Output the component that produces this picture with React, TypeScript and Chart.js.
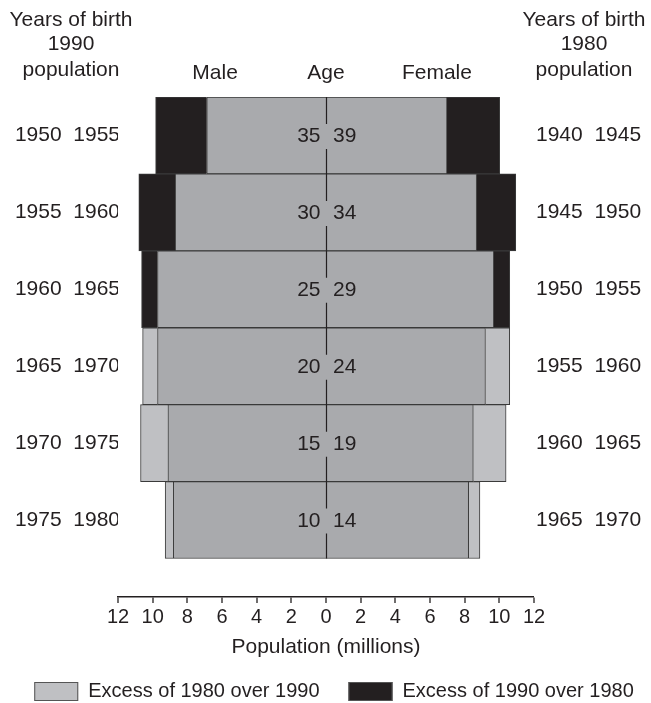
import React, { useEffect, useRef } from 'react';
import { Chart, registerables } from 'chart.js';

Chart.register(...registerables);

// ---- data ----
const ageFrom = [35, 30, 25, 20, 15, 10];
const ageTo = [39, 34, 29, 24, 19, 14];
const birthYears1990 = ['1950  1955', '1955  1960', '1960  1965', '1965  1970', '1970  1975', '1975  1980'];
const birthYears1980 = ['1940  1945', '1945  1950', '1950  1955', '1955  1960', '1960  1965', '1965  1970'];
const male1990 = [9.83, 10.8, 10.64, 9.72, 9.12, 8.81];
const male1980 = [6.88, 8.7, 9.72, 10.58, 10.7, 9.28];
const female1990 = [10.02, 10.95, 10.6, 9.2, 8.5, 8.23];
const female1980 = [6.98, 8.69, 9.68, 10.6, 10.39, 8.88];
const leftHeader = ['Years of birth', '1990', 'population'];
const rightHeader = ['Years of birth', '1980', 'population'];
const sideHeaders = ['Male', 'Age', 'Female'];
const axisTitle = 'Population (millions)';
const legendLabels = ['Excess of 1980 over 1990', 'Excess of 1990 over 1980'];

// ---- styles ----
const COMMON = '#a9aaad';
const LIGHT = '#bfc0c3';
const DARK = '#231f20';
const EDGE = '#3a3a3a';
const TEXT = '#231f20';
const FONT = '"Liberation Sans", Arial, Helvetica, sans-serif';

const commonPart = (a: number[], b: number[], sign: number) =>
  a.map((v, i) => ({ x: sign * Math.min(v, b[i]), y: i }));
const excessPart = (a: number[], b: number[], sign: number) =>
  a
    .map((v, i) => ({ x: sign * (v - b[i]), y: i, keep: v > b[i] }))
    .filter((p) => p.keep)
    .map((p) => ({ x: p.x, y: p.y }));

const overlayPlugin = {
  id: 'overlay',
  afterDatasetsDraw(chart: any) {
    const { ctx } = chart;
    const xs = chart.scales.x;
    const ys = chart.scales.y;
    const x0 = Math.round(xs.getPixelForValue(0)) + 0.5;
    ctx.save();
    ctx.strokeStyle = TEXT;
    ctx.lineWidth = 1.2;
    ctx.fillStyle = TEXT;
    ctx.font = `21px ${FONT}`;
    ctx.textBaseline = 'middle';
    ageFrom.forEach((a, i) => {
      const top = ys.getPixelForValue(i - 0.5);
      const bottom = ys.getPixelForValue(i + 0.5);
      const mid = ys.getPixelForValue(i) + 1;
      ctx.beginPath();
      ctx.moveTo(x0, top);
      ctx.lineTo(x0, mid - 12.5);
      ctx.moveTo(x0, mid + 12.5);
      ctx.lineTo(x0, bottom);
      ctx.stroke();
      ctx.textAlign = 'right';
      ctx.fillText(String(a), x0 - 6, mid);
      ctx.textAlign = 'left';
      ctx.fillText(String(ageTo[i]), x0 + 6.5, mid);
    });
    ctx.restore();
  },
  afterDraw(chart: any) {
    const { ctx } = chart;
    const xs = chart.scales.x;
    ctx.save();
    ctx.fillStyle = TEXT;
    ctx.textBaseline = 'middle';
    ctx.textAlign = 'center';
    ctx.font = `21px ${FONT}`;
    const headerY = [20, 44.5, 70.5];
    leftHeader.forEach((t, i) => ctx.fillText(t, 71, headerY[i]));
    rightHeader.forEach((t, i) => ctx.fillText(t, 584, headerY[i]));
    const sideX = [xs.getPixelForValue(-6.4), xs.getPixelForValue(0), xs.getPixelForValue(6.4)];
    sideHeaders.forEach((t, i) => ctx.fillText(t, sideX[i], 73.5));

    // legend
    ctx.font = `20px ${FONT}`;
    const colors = [LIGHT, DARK];
    const boxW = 44;
    const boxH = 19;
    const gapText = 10;
    const gapItems = 29;
    const widths = legendLabels.map((t) => boxW + gapText + ctx.measureText(t).width);
    const total = widths[0] + widths[1] + gapItems;
    let x = 334 - total / 2;
    const yBox = 682;
    legendLabels.forEach((t, i) => {
      ctx.fillStyle = colors[i];
      ctx.fillRect(x, yBox, boxW, boxH);
      ctx.strokeStyle = '#555';
      ctx.lineWidth = 1;
      ctx.strokeRect(x + 0.5, yBox + 0.5, boxW - 1, boxH - 1);
      ctx.fillStyle = TEXT;
      ctx.textAlign = 'left';
      ctx.fillText(t, x + boxW + gapText, yBox + boxH / 2);
      x += widths[i] + gapItems;
    });
    ctx.restore();
  },
};

export default function App() {
  const ref = useRef<HTMLCanvasElement | null>(null);
  useEffect(() => {
    if (!ref.current) return;
    const barStyle = {
      borderColor: EDGE,
      borderWidth: 1,
      borderSkipped: 'start',
      barPercentage: 1,
      categoryPercentage: 1,
      yAxisID: 'y',
    };
    const chart = new Chart(ref.current, {
      type: 'bar',
      data: {
        datasets: [
          { ...barStyle, label: 'Male common', data: commonPart(male1990, male1980, -1), backgroundColor: COMMON },
          { ...barStyle, label: legendLabels[0], data: excessPart(male1980, male1990, -1), backgroundColor: LIGHT },
          { ...barStyle, label: legendLabels[1], data: excessPart(male1990, male1980, -1), backgroundColor: DARK },
          { ...barStyle, label: 'Female common', data: commonPart(female1990, female1980, 1), backgroundColor: COMMON },
          { ...barStyle, label: legendLabels[0], data: excessPart(female1980, female1990, 1), backgroundColor: LIGHT },
          { ...barStyle, label: legendLabels[1], data: excessPart(female1990, female1980, 1), backgroundColor: DARK },
        ] as any,
      },
      options: {
        indexAxis: 'y',
        animation: false,
        responsive: false,
        devicePixelRatio: 1,
        layout: { padding: { top: 97, left: 0, right: 0, bottom: 0 } },
        plugins: { legend: { display: false }, tooltip: { enabled: false }, title: { display: false } },
        scales: {
          x: {
            type: 'linear',
            stacked: true,
            min: -12,
            max: 12,
            afterFit: (s: any) => { s.height = 106; },
            ticks: {
              stepSize: 2,
              autoSkip: false,
              maxRotation: 0,
              padding: 2,
              color: TEXT,
              font: { family: FONT, size: 20 },
              callback: (v: any) => String(Math.abs(Number(v))),
            },
            grid: {
              drawOnChartArea: false,
              drawTicks: true,
              tickLength: 6,
              lineWidth: 0,
              tickWidth: 1.3,
              tickColor: TEXT,
              color: TEXT,
            },
            border: { display: true, color: TEXT, width: 1.5 },
            title: {
              display: true,
              text: axisTitle,
              color: TEXT,
              font: { family: FONT, size: 21 },
              padding: { top: 0, bottom: 43 },
            },
          },
          y: {
            type: 'linear',
            position: 'left',
            stacked: true,
            reverse: true,
            offset: false,
            bounds: 'data',
            min: -0.5,
            max: 6,
            afterFit: (s: any) => { s.width = 118; },
            afterBuildTicks: (s: any) => { s.ticks = birthYears1990.map((_, i) => ({ value: i })); },
            ticks: {
              padding: -2,
              color: TEXT,
              font: { family: FONT, size: 21 },
              callback: (v: any) => birthYears1990[Number(v)] ?? '',
            },
            grid: { display: false, drawTicks: false, offset: false },
            border: { display: false },
          },
          y2: {
            type: 'linear',
            position: 'right',
            reverse: true,
            offset: false,
            bounds: 'data',
            min: -0.5,
            max: 6,
            afterFit: (s: any) => { s.width = 117; },
            afterBuildTicks: (s: any) => { s.ticks = birthYears1980.map((_, i) => ({ value: i })); },
            ticks: {
              padding: 2,
              color: TEXT,
              font: { family: FONT, size: 21 },
              callback: (v: any) => birthYears1980[Number(v)] ?? '',
            },
            grid: { display: false, drawTicks: false, offset: false },
            border: { display: false },
          },
        },
      } as any,
      plugins: [overlayPlugin],
    });
    return () => chart.destroy();
  }, []);
  return (
    <div style={{ position: 'absolute', left: 0, top: 0, width: 651, height: 703, background: '#fff' }}>
      <canvas ref={ref} width={651} height={703} />
    </div>
  );
}
